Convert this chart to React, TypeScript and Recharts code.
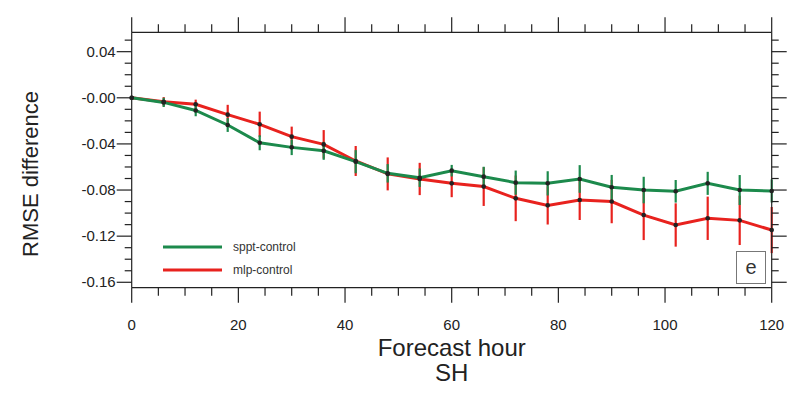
import { LineChart, Line, XAxis, YAxis, ErrorBar } from "recharts";

const hours = [0, 6, 12, 18, 24, 30, 36, 42, 48, 54, 60, 66, 72, 78, 84, 90, 96, 102, 108, 114, 120];

const spptValues = [0, -0.004, -0.011, -0.0236, -0.039, -0.043, -0.046, -0.0554, -0.0655, -0.0693, -0.0632, -0.0684, -0.0736, -0.0742, -0.0704, -0.0776, -0.08, -0.0811, -0.0742, -0.08, -0.0808];
const spptErr = [0, 0.004, 0.005, 0.006, 0.0065, 0.0067, 0.0078, 0.01, 0.008, 0.008, 0.005, 0.0086, 0.0105, 0.0105, 0.012, 0.0107, 0.0115, 0.0098, 0.01, 0.013, 0.01];

const mlpValues = [0, -0.0034, -0.0056, -0.0146, -0.023, -0.0337, -0.0404, -0.0548, -0.066, -0.0704, -0.0742, -0.077, -0.0872, -0.0933, -0.0886, -0.09, -0.1017, -0.1103, -0.1045, -0.1063, -0.1147];
const mlpErr = [0, 0.004, 0.004, 0.0085, 0.011, 0.0087, 0.0124, 0.013, 0.0143, 0.014, 0.012, 0.0168, 0.0198, 0.0166, 0.0174, 0.0188, 0.0217, 0.0188, 0.0188, 0.0214, 0.02];

const xTicks = [0, 5, 10, 15, 20, 25, 30, 35, 40, 45, 50, 55, 60, 65, 70, 75, 80, 85, 90, 95, 100, 105, 110, 115, 120];
const xMajor = [0, 20, 40, 60, 80, 100, 120];

const yTicks = [0.05, 0.04, 0.03, 0.02, 0.01, 0, -0.01, -0.02, -0.03, -0.04, -0.05, -0.06, -0.07, -0.08, -0.09, -0.1, -0.11, -0.12, -0.13, -0.14, -0.15, -0.16];
const yMajor = [0.04, 0, -0.04, -0.08, -0.12, -0.16];
const yLabels = ["0.04", "-0.00", "-0.04", "-0.08", "-0.12", "-0.16"];

const seriesNames = ["sppt-control", "mlp-control"];

const data = hours.map((h, i) => ({
  hour: h,
  sppt: spptValues[i],
  spptErr: spptErr[i],
  mlp: mlpValues[i],
  mlpErr: mlpErr[i],
}));

const GREEN = "#1c8a4c";
const RED = "#e8221e";
const INK = "#222";
const FONT = "'Liberation Sans', Arial, sans-serif";

const majorY = (v: number) => yMajor.findIndex((m) => Math.abs(m - v) < 1e-6);

const BottomTick = (props: any) => {
  const { x, y, payload } = props;
  const major = xMajor.includes(payload.value);
  return (
    <g>
      <line x1={x} x2={x} y1={y} y2={y + (major ? 15 : 8)} stroke={INK} strokeWidth={1.2} />
      {major && (
        <text x={x} y={y + 42} textAnchor="middle" fontSize={15} fill={INK} fontFamily={FONT}>
          {payload.value}
        </text>
      )}
    </g>
  );
};

const TopTick = (props: any) => {
  const { x, y, payload } = props;
  const major = xMajor.includes(payload.value);
  return <line x1={x} x2={x} y1={y} y2={y - (major ? 15 : 8)} stroke={INK} strokeWidth={1.2} />;
};

const LeftTick = (props: any) => {
  const { x, y, payload } = props;
  const idx = majorY(payload.value);
  return (
    <g>
      <line x1={x} x2={x - (idx >= 0 ? 15 : 7)} y1={y} y2={y} stroke={INK} strokeWidth={1.2} />
      {idx >= 0 && (
        <text x={x - 16} y={y + 5} textAnchor="end" fontSize={15} fill={INK} fontFamily={FONT}>
          {yLabels[idx]}
        </text>
      )}
    </g>
  );
};

const RightTick = (props: any) => {
  const { x, y, payload } = props;
  const idx = majorY(payload.value);
  return <line x1={x} x2={x + (idx >= 0 ? 15 : 7)} y1={y} y2={y} stroke={INK} strokeWidth={1.2} />;
};

export default function App() {
  return (
    <div style={{ position: "absolute", left: 0, top: 0, width: 790, height: 399, background: "#fff" }}>
      <LineChart width={790} height={399} data={data} margin={{ top: 0, right: 0, bottom: 0, left: 0 }}>
        <XAxis
          xAxisId="bottom"
          dataKey="hour"
          type="number"
          domain={[0, 120]}
          ticks={xTicks}
          interval={0}
          orientation="bottom"
          height={111.3}
          tickSize={0}
          tickMargin={0}
          tickLine={false}
          axisLine={{ stroke: INK, strokeWidth: 1.2 }}
          tick={<BottomTick />}
        />
        <XAxis
          xAxisId="top"
          dataKey="hour"
          type="number"
          domain={[0, 120]}
          ticks={xTicks}
          interval={0}
          orientation="top"
          height={32.3}
          tickSize={0}
          tickMargin={0}
          tickLine={false}
          axisLine={{ stroke: INK, strokeWidth: 1.2 }}
          tick={<TopTick />}
        />
        <YAxis
          yAxisId="left"
          type="number"
          domain={[-0.1647, 0.0568]}
          allowDataOverflow
          ticks={yTicks}
          interval={0}
          width={131.7}
          tickSize={0}
          tickMargin={0}
          tickLine={false}
          axisLine={{ stroke: INK, strokeWidth: 1.2 }}
          tick={<LeftTick />}
        />
        <YAxis
          yAxisId="right"
          orientation="right"
          type="number"
          domain={[-0.1647, 0.0568]}
          allowDataOverflow
          ticks={yTicks}
          interval={0}
          width={18.3}
          tickSize={0}
          tickMargin={0}
          tickLine={false}
          axisLine={{ stroke: INK, strokeWidth: 1.2 }}
          tick={<RightTick />}
        />
        <Line
          xAxisId="bottom"
          yAxisId="left"
          dataKey="mlp"
          name={seriesNames[1]}
          stroke={RED}
          strokeWidth={3}
          dot={{ r: 2.3, fill: "#222", stroke: "none" }}
          isAnimationActive={false}
        >
          <ErrorBar dataKey="mlpErr" direction="y" width={0} stroke={RED} strokeWidth={2.2} isAnimationActive={false} />
        </Line>
        <Line
          xAxisId="bottom"
          yAxisId="left"
          dataKey="sppt"
          name={seriesNames[0]}
          stroke={GREEN}
          strokeWidth={3}
          dot={{ r: 2.3, fill: "#222", stroke: "none" }}
          isAnimationActive={false}
        >
          <ErrorBar dataKey="spptErr" direction="y" width={0} stroke={GREEN} strokeWidth={2.2} isAnimationActive={false} />
        </Line>
      </LineChart>
      <svg width={790} height={399} style={{ position: "absolute", left: 0, top: 0, pointerEvents: "none" }}>
        <g fontFamily={FONT}>
          <line x1={163} x2={222} y1={247} y2={247} stroke={GREEN} strokeWidth={3} />
          <text x={233} y={251} fontSize={12} fill="#333">{seriesNames[0]}</text>
          <line x1={163} x2={222} y1={270} y2={270} stroke={RED} strokeWidth={3} />
          <text x={233} y={274} fontSize={12} fill="#333">{seriesNames[1]}</text>
          <rect x={736.5} y={251.5} width={29} height={32} fill="#fff" stroke="#777" />
          <text x={751} y={274} fontSize={20} fill="#333" textAnchor="middle">e</text>
          <text x={451.7} y={356} fontSize={24} fill={INK} textAnchor="middle">Forecast hour</text>
          <text x={451.7} y={381} fontSize={24} fill={INK} textAnchor="middle">SH</text>
          <text
            x={0}
            y={0}
            fontSize={22}
            fill={INK}
            textAnchor="middle"
            transform="translate(38 174) rotate(-90)"
          >
            RMSE difference
          </text>
        </g>
      </svg>
    </div>
  );
}
